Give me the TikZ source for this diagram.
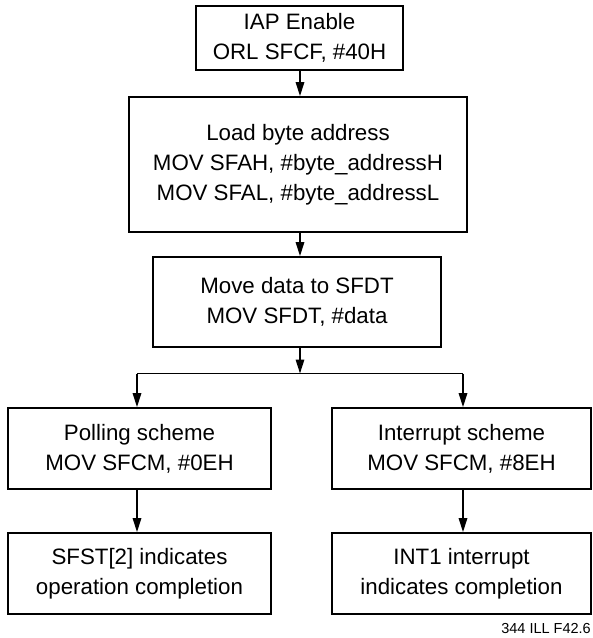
\documentclass[tikz,border=0pt]{standalone}
\usepackage{fontspec}
\setmainfont{Liberation Sans}
\usetikzlibrary{arrows.meta}
\begin{document}
\begin{tikzpicture}[x=1pt,y=-1pt,
  box/.style={draw=black, line width=1.8pt, inner sep=0pt, align=center,
    font=\fontsize{22.3}{30}\selectfont},
  conn/.style={line width=1.5pt},
  arr/.style={conn, -{Triangle[length=14pt,width=8.5pt]}},
  fig/.style={font=\fontsize{14.5}{17}\selectfont, inner sep=0pt, anchor=base east}]
\useasboundingbox (0,0) rectangle (593,638);
\node[box, minimum width=207pt, minimum height=64pt] (b1) at (299.5,38) {IAP Enable\\ORL SFCF, \#40H};
\node[box, minimum width=338pt, minimum height=135pt] (b2) at (298,164.5) {Load byte address\\MOV SFAH, \#byte\_addressH\\MOV SFAL, \#byte\_addressL};
\node[box, minimum width=288pt, minimum height=90pt] (b3) at (297,302) {Move data to SFDT\\MOV SFDT, \#data};
\node[box, minimum width=263pt, minimum height=81pt] (b4) at (139.5,448.5) {Polling scheme\\MOV SFCM, \#0EH};
\node[box, minimum width=263pt, minimum height=81pt] (b5) at (139.5,573.5) {SFST[2] indicates\\operation completion};
\node[box, minimum width=259pt, minimum height=81pt] (b6) at (461.5,448.5) {Interrupt scheme\\MOV SFCM, \#8EH};
\node[box, minimum width=259pt, minimum height=81pt] (b7) at (461.5,573.5) {INT1 interrupt\\indicates completion};
\coordinate (c) at (300,0);
\coordinate (split) at (300,373.5);
\coordinate (sl) at (137,373.5);
\coordinate (sr) at (463,373.5);
\draw[arr] (b1.south -| c) -- (b2.north -| c);
\draw[arr] (b2.south -| c) -- (b3.north -| c);
\draw[arr] (b3.south -| c) -- (split);
\draw[conn] (sl) -- (sr);
\draw[arr] (sl) -- (b4.north -| sl);
\draw[arr] (sr) -- (b6.north -| sr);
\draw[arr] (b4.south -| sl) -- (b5.north -| sl);
\draw[arr] (b6.south -| sr) -- (b7.north -| sr);
\node[fig] (lab) at (591,633) {344 ILL F42.6};
\end{tikzpicture}
\end{document}
